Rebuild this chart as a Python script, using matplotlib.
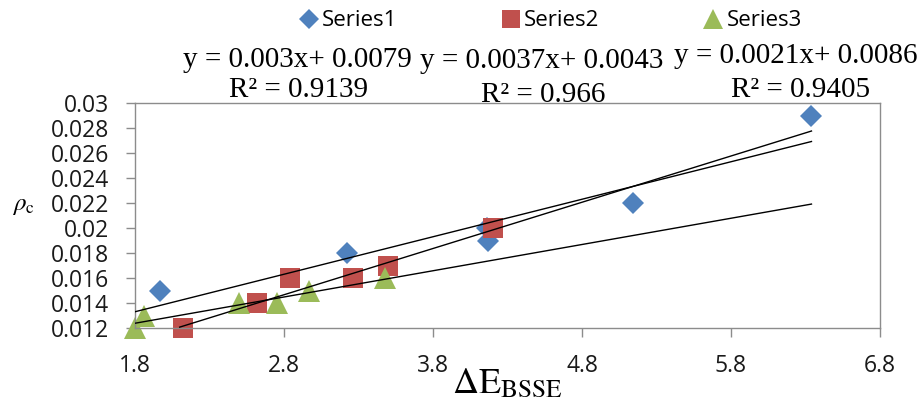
import matplotlib
matplotlib.use('Agg')
import matplotlib.pyplot as plt
import numpy as np
from matplotlib.ticker import FuncFormatter

plt.rcParams['mathtext.fontset'] = 'stix'

# values
s1_x = [1.97, 3.22, 4.16, 4.17, 5.14, 6.34]
s1_y = [0.015, 0.018, 0.020, 0.019, 0.022, 0.029]
s2_x = [2.12, 2.62, 2.84, 3.26, 3.50, 4.20]
s2_y = [0.012, 0.014, 0.016, 0.016, 0.017, 0.020]
s3_x = [1.80, 1.86, 2.50, 2.75, 2.97, 3.48]
s3_y = [0.012, 0.013, 0.014, 0.014, 0.015, 0.016]

names = ['Series1', 'Series2', 'Series3']
slopes = [0.003, 0.0037, 0.0021]
intercepts = [0.0079, 0.0043, 0.0086]
r_squared = [0.9139, 0.966, 0.9405]
trend_from = [1.8, 2.1, 1.8]
trend_to = [6.34, 6.34, 6.34]

x_ticks = [1.8, 2.8, 3.8, 4.8, 5.8, 6.8]
y_ticks = [0.012, 0.014, 0.016, 0.018, 0.020, 0.022, 0.024, 0.026, 0.028, 0.030]

colors = ['#4F81BD', '#C0504D', '#9BBB59']
markers = ['D', 's', '^']
msizes = [11, 15, 16]
sans = 'Open Sans'
serif = 'Liberation Serif'
axis_grey = '#8c8c8c'

W, H = 918, 400
fig = plt.figure(figsize=(W / 100, H / 100), dpi=100)
ax = fig.add_axes([135 / W, 72 / H, 745 / W, 225 / H])

series = [(s1_x, s1_y), (s2_x, s2_y), (s3_x, s3_y)]
handles = []
for (xs, ys), name, c, m, ms in zip(series, names, colors, markers, msizes):
    h, = ax.plot(xs, ys, linestyle='none', marker=m, ms=ms, color=c,
                 markeredgewidth=0, clip_on=False, zorder=2, label=name)
    handles.append(h)

for k, b, x0, x1 in zip(slopes, intercepts, trend_from, trend_to):
    tx = np.array([x0, x1])
    ax.plot(tx, k * tx + b, color='black', lw=1.0, zorder=3)

ax.set_xlim(x_ticks[0], x_ticks[-1])
ax.set_ylim(y_ticks[0], y_ticks[-1])
ax.set_xticks(x_ticks)
ax.set_yticks(y_ticks)
fmt = FuncFormatter(lambda v, p: f'{round(v, 4):g}')
ax.xaxis.set_major_formatter(fmt)
ax.yaxis.set_major_formatter(fmt)
ax.tick_params(length=6.5, width=1, color=axis_grey, pad=12,
               labelsize=16.5, labelcolor='#1a1a1a')
for lab in ax.get_xticklabels() + ax.get_yticklabels():
    lab.set_fontfamily(sans)
for sp in ax.spines.values():
    sp.set_color(axis_grey)
    sp.set_linewidth(1)

ax.set_xlabel(r'$\Delta\mathrm{E}_{\mathrm{BSSE}}$', fontsize=26)
ax.xaxis.set_label_coords(0.5, -0.17)
ax.set_ylabel(r'$\rho_{\mathrm{c}}$', fontsize=18, rotation=0, va='center')
ax.yaxis.set_label_coords(-0.15, 0.547)

# trendline equations, (center x, baseline y) in pixels
eq_pos = [(297, 67), (542, 68), (796, 63)]
r2_pos = [(299, 97), (543, 102), (801, 97)]
for k, b, r2, (ex, ey), (rx, ry) in zip(slopes, intercepts, r_squared, eq_pos, r2_pos):
    fig.text(ex / W, 1 - ey / H, f'y = {k:g}x+ {b:g}', ha='center', va='baseline',
             fontsize=21, family=serif)
    fig.text(rx / W, 1 - ry / H, f'R\u00b2 = {r2:g}', ha='center', va='baseline',
             fontsize=21, family=serif)

fig.legend(handles=handles, loc='center', bbox_to_anchor=(0.6, 1 - 21 / H),
           ncol=3, frameon=False, prop={'family': sans, 'size': 16},
           handlelength=0.8, handletextpad=0.2, columnspacing=4.7,
           numpoints=1, borderpad=0, markerscale=0.9)

fig.savefig('out.png', dpi=100)
